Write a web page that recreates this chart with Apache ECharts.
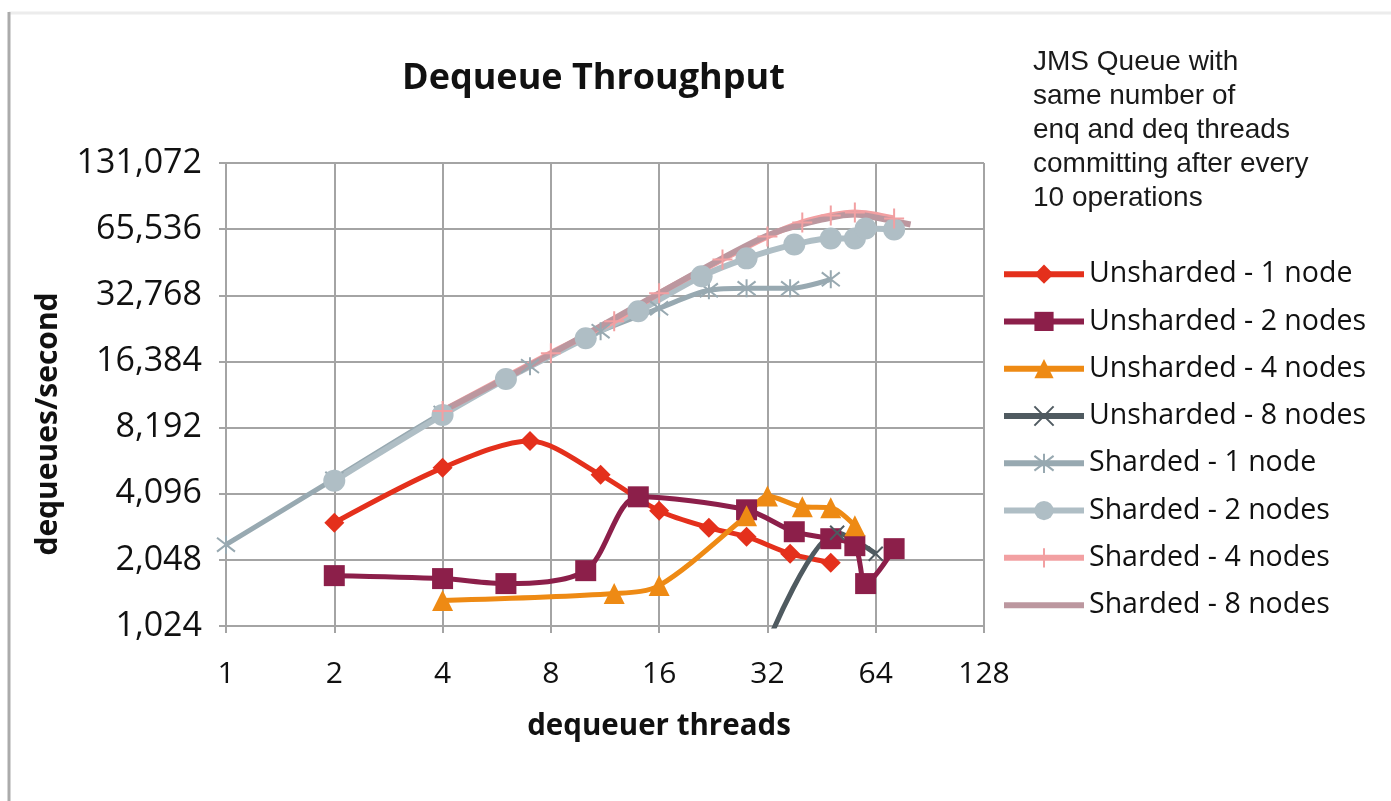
<!DOCTYPE html>
<html style="height: 100%">
    <head>
        <title>Dequeue Throughput</title>
        <script type="text/javascript" src="https://fastly.jsdelivr.net/npm/echarts@6.0.0/dist/echarts.min.js"></script>
    </head>
    <body style="height: 100%; margin: 0; background: #fff">
        <div id="target" style="width: 1391px; height: 801px"></div>

<script>
// x = dequeuer threads, y = dequeues/second (both log2)
const xTicks = [1, 2, 4, 8, 16, 32, 64, 128];
const yTicks = [1024, 2048, 4096, 8192, 16384, 32768, 65536, 131072];

const unsharded1X = [2, 4, 7, 11, 16, 22, 28, 37, 48];
const unsharded1Y = [3022, 5371, 7120, 4992, 3425, 2867, 2610, 2185, 1989];

const unsharded2X = [2, 4, 6, 10, 14, 28, 38, 48, 56, 60, 72];
const unsharded2Y = [1736, 1683, 1597, 1829, 3965, 3461, 2750, 2556, 2376, 1597, 2303];

const unsharded4X = [4, 12, 16, 28, 32, 40, 48, 56];
const unsharded4Y = [1337, 1438, 1564, 3251, 4000, 3571, 3534, 2928];

const unsharded8X = [32, 50, 64];
const unsharded8Y = [850, 2722, 2185];

const sharded1X = [1, 2, 4, 7, 11, 16, 22, 28, 37, 48];
const sharded1Y = [2401, 4787, 9544, 15596, 22490, 28600, 34520, 35270, 35270, 38730];

const sharded2X = [2, 4, 6, 10, 14, 21, 28, 38, 48, 56, 60, 72];
const sharded2Y = [4688, 9345, 13620, 20900, 27720, 39980, 48250, 55850, 59460, 59460, 66040, 65330];

const sharded4X = [4, 8, 12, 16, 24, 32, 40, 48, 56, 72];
const sharded4Y = [9745, 17870, 24970, 33460, 47740, 60720, 70300, 75620, 78030, 73290];

const sharded8X = [4, 8, 16, 32, 48, 56, 64, 80];
const sharded8Y = [9745, 17690, 33460, 61350, 74050, 76400, 74050, 68830];

const noteLines = [
    "JMS Queue with",
    "same number of",
    "enq and deq threads",
    "committing after every",
    "10 operations",
];

let zip = (xs, ys) => xs.map((x, i) => [x, ys[i]]);

const xMark = "path://M0,0L10,10M10,0L0,10";
const starMark = "path://M0,0L10,10M10,0L0,10M5,-1.5L5,11.5";
const plusMark = "path://M5,-2L5,12M0,5L10,5";

let chart = echarts.init(document.getElementById('target'));

let MakeSeries = (name, xs, ys, color, symbol, size, width, stroke) => {
    let s = {
        name: name,
        type: "line",
        data: zip(xs, ys),
        color: color,
        symbol: symbol,
        symbolSize: size,
        smooth: 0.3,
        lineStyle: { width: width, color: color },
        itemStyle: { color: color },
    };
    if (stroke)
    {
        s.itemStyle.borderColor = color;
        s.itemStyle.borderWidth = stroke;
    }
    return s;
};

let series = [
    MakeSeries("Unsharded - 1 node", unsharded1X, unsharded1Y, "#e4301c", "diamond", 20, 5),
    MakeSeries("Unsharded - 2 nodes", unsharded2X, unsharded2Y, "#8c1f4a", "rect", 21, 5),
    MakeSeries("Unsharded - 4 nodes", unsharded4X, unsharded4Y, "#ee8a14", "triangle", 21, 5),
    MakeSeries("Unsharded - 8 nodes", unsharded8X, unsharded8Y, "#4f5a60", xMark, 14, 5, 2),
    MakeSeries("Sharded - 1 node", sharded1X, sharded1Y, "#98a9b1", starMark, 18, 5, 2),
    MakeSeries("Sharded - 2 nodes", sharded2X, sharded2Y, "#afbec5", "circle", 22, 6),
    MakeSeries("Sharded - 4 nodes", sharded4X, sharded4Y, "#f2a0a2", plusMark, 20, 6, 2),
    MakeSeries("Sharded - 8 nodes", sharded8X, sharded8Y, "#bc979f", "none", 0, 6),
];

let legendData = series.map((s) => {
    let item = { name: s.name };
    if (s.symbol == "none")
    {
        item.itemStyle = { opacity: 0 };
    }
    return item;
});

let gridColor = "#a4a4a4";
let textColor = "#111";
let font = "'Open Sans', sans-serif";

let option = {
    animation: false,
    backgroundColor: "#fff",
    title: {
        text: "Dequeue Throughput",
        left: 402,
        top: 46,
        padding: 0,
        textStyle: {
            fontFamily: font,
            fontWeight: "bold",
            fontSize: 36,
            color: textColor,
        },
    },
    legend: {
        orient: "vertical",
        left: 1001,
        top: 251,
        padding: 0,
        itemWidth: 80,
        itemHeight: 24,
        itemGap: 1,
        data: legendData,
        lineStyle: { width: 6 },
        textStyle: {
            fontFamily: font,
            fontSize: 28.5,
            lineHeight: 30,
            color: textColor,
        },
    },
    grid: {
        left: 226,
        right: 407,
        top: 163,
        bottom: 175,
    },
    xAxis: {
        type: "log",
        logBase: 2,
        min: xTicks[0],
        max: xTicks[xTicks.length - 1],
        splitNumber: xTicks.length - 1,
        axisLine: { lineStyle: { color: gridColor, width: 2 } },
        axisTick: { show: true, length: 7, lineStyle: { color: gridColor, width: 2 } },
        splitLine: { show: true, lineStyle: { color: gridColor, width: 2 } },
        axisLabel: {
            margin: 24,
            fontFamily: font,
            fontSize: 30,
            color: textColor,
            formatter: (v) => Math.round(v).toString(),
        },
    },
    yAxis: {
        type: "log",
        logBase: 2,
        min: yTicks[0],
        max: yTicks[yTicks.length - 1],
        splitNumber: yTicks.length - 1,
        axisLine: { show: true, lineStyle: { color: gridColor, width: 2 } },
        axisTick: { show: true, length: 7, lineStyle: { color: gridColor, width: 2 } },
        splitLine: { show: true, lineStyle: { color: gridColor, width: 2 } },
        axisLabel: {
            margin: 24,
            fontFamily: font,
            fontSize: 34,
            color: textColor,
            formatter: (v) => Math.round(v).toLocaleString("en-US"),
        },
    },
    graphic: [
        // outer frame, like the pasted picture border
        { type: "line", shape: { x1: 9, y1: 13, x2: 1391, y2: 13 }, style: { stroke: "#ececec", lineWidth: 3 } },
        { type: "line", shape: { x1: 9, y1: 12, x2: 9, y2: 801 }, style: { stroke: "#ababab", lineWidth: 3 } },
        {
            type: "text",
            left: 1033,
            top: 38,
            style: {
                text: noteLines.join("\n"),
                font: "28px 'Liberation Sans', Arial, sans-serif",
                lineHeight: 34,
                fill: "#1a1a1a",
            },
        },
        {
            type: "text",
            x: 659,
            y: 727,
            style: {
                text: "dequeuer threads",
                font: "bold 29.5px 'Open Sans', sans-serif",
                align: "center",
                verticalAlign: "middle",
                fill: textColor,
            },
        },
        {
            type: "text",
            x: 48,
            y: 424,
            rotation: Math.PI / 2,
            style: {
                text: "dequeues/second",
                font: "bold 30px 'Open Sans', sans-serif",
                align: "center",
                verticalAlign: "middle",
                fill: textColor,
            },
        },
    ],
    series: series,
};

chart.setOption(option);
</script>
    </body>
</html>
